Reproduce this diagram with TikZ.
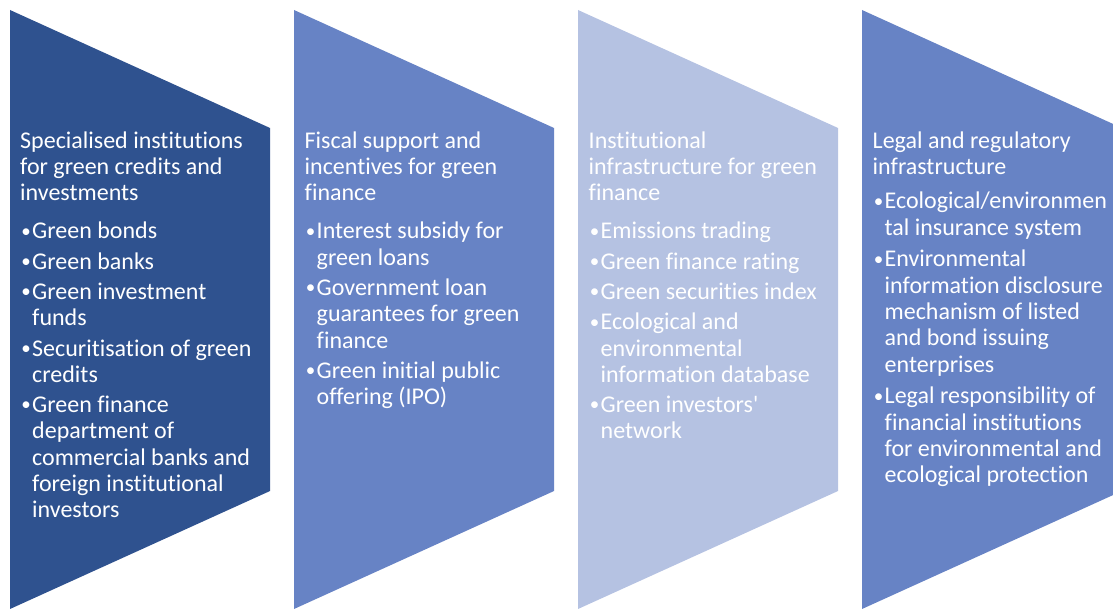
\documentclass[tikz,border=0pt]{standalone}
\usepackage{fontspec}
\setmainfont{Carlito}[Ligatures=NoCommon]
\definecolor{dkblue}{RGB}{47,82,143}
\definecolor{mdblue}{RGB}{103,131,197}
\definecolor{ltblue}{RGB}{181,194,226}
\newcommand{\myb}{\makebox[12pt][c]{\raisebox{1.7pt}{\fontsize{19pt}{19pt}\selectfont •}}}
\newcommand{\myi}{\hspace*{12pt}}
\newcommand{\myfirst}{\rule{0pt}{18pt}}
\begin{document}
\begin{tikzpicture}[x=1pt,y=-1pt,
  txt/.style={anchor=north west, inner sep=0pt, align=left, text=white,
    font=\fontsize{24pt}{26.3pt}\selectfont}]
\useasboundingbox (0,0) rectangle (1113,609);
\clip (0,0) rectangle (1113,609);
% chevron panels
\fill[dkblue] (10,10) -- (270,128) -- (270,491) -- (10,609) -- cycle;
\fill[mdblue] (294,10) -- (554,128) -- (554,491) -- (294,609) -- cycle;
\fill[ltblue] (578,10) -- (838,128) -- (838,491) -- (578,609) -- cycle;
\fill[mdblue] (862,10) -- (1122,128) -- (1122,491) -- (862,609) -- cycle;
% texts
\node[txt] (t1) at (20,130) {\myfirst Specialised institutions\\
 for green credits and\\
 investments\\[11.7pt]
 \myb Green bonds\\[4pt]
 \myb Green banks\\[4pt]
 \myb Green investment\\
 \myi funds\\[4pt]
 \myb Securitisation of green\\
 \myi credits\\[4pt]
 \myb Green finance\\
 \myi department of\\
 \myi commercial banks and\\
 \myi foreign institutional\\
 \myi investors};
\node[txt] (t2) at (304.5,130) {\myfirst Fiscal support and\\
 incentives for green\\
 finance\\[11.7pt]
 \myb Interest subsidy for\\
 \myi green loans\\[4pt]
 \myb Government loan\\
 \myi guarantees for green\\
 \myi finance\\[4pt]
 \myb Green initial public\\
 \myi offering (IPO)};
\node[txt] (t3) at (588.5,130) {\myfirst Institutional\\
 infrastructure for green\\
 finance\\[11.7pt]
 \myb Emissions trading\\[4pt]
 \myb Green finance rating\\[4pt]
 \myb Green securities index\\[4pt]
 \myb Ecological and\\
 \myi environmental\\
 \myi information database\\[4pt]
 \myb Green investors\textquotesingle\\
 \myi network};
\node[txt] (t4) at (872.5,130) {\myfirst Legal and regulatory\\
 infrastructure\\[8pt]
 \myb Ecological/environmen\\
 \myi tal insurance system\\[5.5pt]
 \myb Environmental\\
 \myi information disclosure\\
 \myi mechanism of listed\\
 \myi and bond issuing\\
 \myi enterprises\\[5.5pt]
 \myb Legal responsibility of\\
 \myi financial institutions\\
 \myi for environmental and\\
 \myi ecological protection};
\end{tikzpicture}
\end{document}
